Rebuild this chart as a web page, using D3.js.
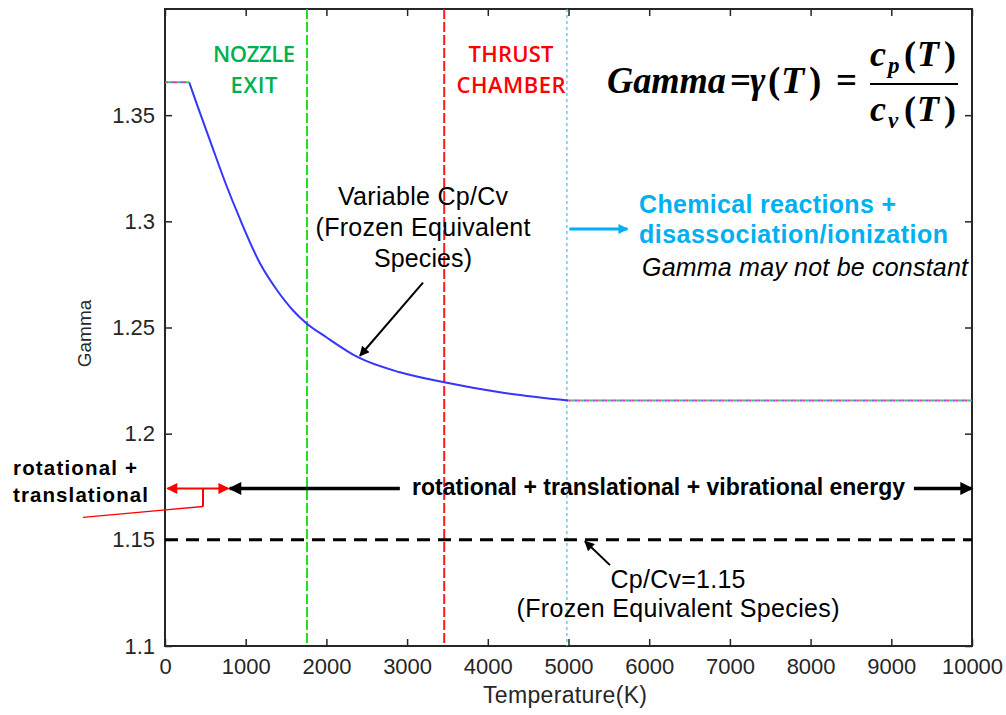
<!DOCTYPE html>
<html>
<head>
<meta charset="utf-8">
<script src="https://cdn.jsdelivr.net/npm/d3@7"></script>
<style>
  body { margin: 0; background: #fff; }
  svg { display: block; }
  .tick text { font-family: "Liberation Sans", Arial, sans-serif; font-size: 22px; fill: #262626; }
</style>
</head>
<body>
<div id="chart"></div>
<script>
// curve (variable Cp/Cv, frozen equivalent species)
const tempK = [300, 350, 560, 760, 930, 1180, 1380, 1590, 1740, 2000, 2390, 2910, 3460, 4150, 5000];
const gammaVals = [1.3655, 1.3600, 1.3378, 1.3170, 1.3010, 1.2800, 1.2680, 1.2579, 1.2524, 1.2454, 1.2360, 1.2289, 1.2242, 1.2195, 1.2156];
// flat frozen parts (dotted)
const lowFlatK = [0, 300], lowFlatGamma = 1.3655;
const highFlatK = [5000, 10000], highFlatGamma = 1.2156;
const constGamma = 1.15;

const xTicks = [0, 1000, 2000, 3000, 4000, 5000, 6000, 7000, 8000, 9000, 10000];
const yTicks = [1.1, 1.15, 1.2, 1.25, 1.3, 1.35];

const nozzleK = 1760, chamberK = 3460, chemK = 4980;

let width = 1006, height = 715;
let mLeft = 165, mRight = 972, mTop = 9, mBottom = 646;

let svg = d3.select("#chart").append("svg")
    .attr("width", width).attr("height", height);

let x = d3.scaleLinear().domain([0, 10000]).range([mLeft, mRight]);
let y = d3.scaleLinear().domain([1.1, 1.4]).range([mBottom, mTop]);

// arrow heads
let defs = svg.append("defs");
function marker(id, color, w, h) {
    defs.append("marker")
        .attr("id", id)
        .attr("viewBox", "0 0 10 10")
        .attr("refX", 9).attr("refY", 5)
        .attr("markerUnits", "userSpaceOnUse")
        .attr("markerWidth", w).attr("markerHeight", h)
        .attr("orient", "auto-start-reverse")
        .append("path")
        .attr("d", "M0,0 L10,5 L0,10 z")
        .attr("fill", color);
}
marker("headBlack", "#000", 16, 13);
marker("headSmall", "#000", 12, 10);
marker("headRed", "#ff0000", 12, 11);
marker("headCyan", "#00b0f0", 12, 10);

// axes (ticks pointing inward)
svg.append("g")
    .attr("transform", `translate(0,${mBottom})`)
    .call(d3.axisBottom(x).tickValues(xTicks).tickSize(-7).tickPadding(12).tickFormat(d => d))
    .call(g => g.select(".domain").remove())
    .call(g => g.selectAll("line").attr("stroke", "#262626").attr("stroke-width", 1.5));

svg.append("g")
    .attr("transform", `translate(${mLeft},0)`)
    .call(d3.axisLeft(y).tickValues(yTicks).tickSize(-7).tickPadding(10).tickFormat(d => String(d)))
    .call(g => g.select(".domain").remove())
    .call(g => g.selectAll("line").attr("stroke", "#262626").attr("stroke-width", 1.5));

svg.append("g")
    .attr("transform", `translate(0,${mTop})`)
    .call(d3.axisTop(x).tickValues(xTicks).tickSize(-7).tickFormat(""))
    .call(g => g.select(".domain").remove())
    .call(g => g.selectAll("line").attr("stroke", "#262626").attr("stroke-width", 1.5));

svg.append("g")
    .attr("transform", `translate(${mRight},0)`)
    .call(d3.axisRight(y).tickValues(yTicks).tickSize(-7).tickFormat(""))
    .call(g => g.select(".domain").remove())
    .call(g => g.selectAll("line").attr("stroke", "#262626").attr("stroke-width", 1.5));

// box
svg.append("rect")
    .attr("x", mLeft).attr("y", mTop)
    .attr("width", mRight - mLeft).attr("height", mBottom - mTop)
    .attr("fill", "none").attr("stroke", "#262626").attr("stroke-width", 2);

// axis labels
svg.append("text")
    .attr("x", 565).attr("y", 703)
    .attr("text-anchor", "middle")
    .attr("font-family", "Liberation Sans, Arial, sans-serif")
    .attr("font-size", "23px").attr("fill", "#262626")
    .attr("textLength", 164)
    .text("Temperature(K)");

svg.append("text")
    .attr("transform", `translate(91,${y(1.25) + 6}) rotate(-90)`)
    .attr("text-anchor", "middle")
    .attr("font-family", "Liberation Sans, Arial, sans-serif")
    .attr("font-size", "19px").attr("fill", "#262626")
    .text("Gamma");

// vertical region lines
svg.append("line")
    .attr("x1", x(nozzleK)).attr("x2", x(nozzleK))
    .attr("y1", mTop).attr("y2", mBottom)
    .attr("stroke", "#1fe01f").attr("stroke-width", 2)
    .attr("stroke-dasharray", "10,3");

svg.append("line")
    .attr("x1", x(chamberK)).attr("x2", x(chamberK))
    .attr("y1", mTop).attr("y2", mBottom)
    .attr("stroke", "#ff1a1a").attr("stroke-width", 2)
    .attr("stroke-dasharray", "10,3");

svg.append("line")
    .attr("x1", x(chemK)).attr("x2", x(chemK))
    .attr("y1", mTop).attr("y2", mBottom)
    .attr("stroke", "#55c4ee").attr("stroke-width", 1.3)
    .attr("stroke-dasharray", "3,3");

// constant gamma line
svg.append("line")
    .attr("x1", x(0)).attr("x2", x(10000))
    .attr("y1", y(constGamma)).attr("y2", y(constGamma))
    .attr("stroke", "#000").attr("stroke-width", 3)
    .attr("stroke-dasharray", "13,8");

// variable curve
let line = d3.line()
    .x((d, i) => x(d))
    .y((d, i) => y(gammaVals[i]))
    .curve(d3.curveMonotoneX);

svg.append("path")
    .datum(tempK)
    .attr("d", line)
    .attr("fill", "none")
    .attr("stroke", "#3535ff")
    .attr("stroke-width", 2);

// dotted multi-coloured flat parts
function flatPart(ks, g) {
    let cols = ["#ff3399", "#33cc66", "#7a5cff"];
    cols.forEach((c, i) => {
        svg.append("line")
            .attr("x1", x(ks[0])).attr("x2", x(ks[1]))
            .attr("y1", y(g)).attr("y2", y(g))
            .attr("stroke", c).attr("stroke-width", 2)
            .attr("stroke-dasharray", "3,6")
            .attr("stroke-dashoffset", -i * 3);
    });
}
flatPart(lowFlatK, lowFlatGamma);
flatPart(highFlatK, highFlatGamma);

// text labels; lens = fitted widths of each line
function label(lines, cx, y0, color, size, weight, family, anchor, lh, lens, style) {
    let t = svg.append("text")
        .attr("font-family", family)
        .attr("font-size", size + "px")
        .attr("font-weight", weight)
        .attr("font-style", style || "normal")
        .attr("fill", color)
        .attr("text-anchor", anchor);
    lines.forEach((s, i) => {
        let sp = t.append("tspan").attr("x", cx).attr("y", y0 + i * lh).text(s);
        if (lens) sp.attr("textLength", lens[i]).attr("lengthAdjust", "spacing");
    });
    return t;
}
let calibri = "Open Sans, Lato, sans-serif";
let arial = "Liberation Sans, Arial, sans-serif";
label(["NOZZLE", "EXIT"], 254, 62, "#00b050", 22, 600, calibri, "middle", 31, [82, 47]);
label(["THRUST", "CHAMBER"], 511, 62, "#ff0000", 22, 600, calibri, "middle", 31, [85, 109]);

label(["Variable Cp/Cv", "(Frozen Equivalent", "Species)"], 423, 205, "#000", 25, 400,
    arial, "middle", 31, [170, 215, 98]);

label(["Chemical reactions +", "disassociation/ionization"], 639, 213, "#00b0f0", 25, 700,
    arial, "start", 30, [257, 309]);
label(["Gamma may not be constant"], 642, 276, "#000", 25, 400,
    arial, "start", 30, [326], "italic");

label(["rotational +", "translational"], 13, 475, "#000", 20.5, 700,
    arial, "start", 27, [124, 135]);
label(["rotational + translational + vibrational energy"], 412, 495, "#000", 23, 700,
    arial, "start", 27, [493]);

label(["Cp/Cv=1.15", "(Frozen Equivalent Species)"], 678, 588, "#000", 25, 400,
    arial, "middle", 29, [135, 323]);

// formula, pieces placed where they sit in the picture
let serif = "Liberation Serif, Times New Roman, serif";
function piece(t, s, px, italic, size, dy, len) {
    let sp = t.append("tspan").attr("x", px).text(s);
    if (italic) sp.attr("font-style", "italic");
    if (size) sp.attr("font-size", size + "px");
    if (dy) sp.attr("dy", dy);
    if (len) sp.attr("textLength", len).attr("lengthAdjust", "spacingAndGlyphs");
    return sp;
}
let f = svg.append("text")
    .attr("y", 93)
    .attr("font-family", serif).attr("font-size", "37px")
    .attr("font-weight", 700).attr("fill", "#000");
piece(f, "Gamma", 607, true, null, null, 119);
piece(f, "=", 730, false);
piece(f, "γ", 750, true);
piece(f, "(", 768, false);
piece(f, "T", 781, true, 38);
piece(f, ")", 809, false);
piece(f, "=", 836, false);

function fracPart(yb, sub) {
    let t = svg.append("text")
        .attr("y", yb)
        .attr("font-family", serif).attr("font-size", "36px")
        .attr("font-weight", 700).attr("fill", "#000");
    piece(t, "c", 870, true);
    piece(t, sub, 888, true, 23, 7);
    piece(t, "(", 904, false, null, -7);
    piece(t, "T", 917, true);
    piece(t, ")", 944, false);
}
fracPart(66, "p");
fracPart(121, "v");
svg.append("line")
    .attr("x1", 870).attr("x2", 958)
    .attr("y1", 84).attr("y2", 84)
    .attr("stroke", "#000").attr("stroke-width", 2);

// annotation arrows (data units)
const energyGamma = 1.1742;
function arrow(k1, g1, k2, g2, color, w, head, both) {
    let l = svg.append("line")
        .attr("x1", x(k1)).attr("y1", y(g1))
        .attr("x2", x(k2)).attr("y2", y(g2))
        .attr("stroke", color).attr("stroke-width", w);
    if (head) l.attr("marker-end", `url(#${head})`);
    if (both) l.attr("marker-start", `url(#${head})`);
    return l;
}
// rotational + translational + vibrational energy arrows
arrow(2910, energyGamma, 800, energyGamma, "#000", 3.5, "headBlack");
arrow(9280, energyGamma, 10000, energyGamma, "#000", 3.5, "headBlack");
// red double arrow and leader
arrow(30, energyGamma, 785, energyGamma, "#ff0000", 2, "headRed", true);
arrow(471, energyGamma, 471, 1.1657, "#ff0000", 2);
arrow(471, 1.1657, -1016, 1.1606, "#ff0000", 1.3);
// pointers
arrow(3197, 1.2711, 2416, 1.2367, "#000", 2, "headSmall");
arrow(5514, 1.1381, 5204, 1.1493, "#000", 2, "headSmall");
arrow(5010, 1.2964, 5730, 1.2964, "#00b0f0", 3, "headCyan");
</script>
</body>
</html>
